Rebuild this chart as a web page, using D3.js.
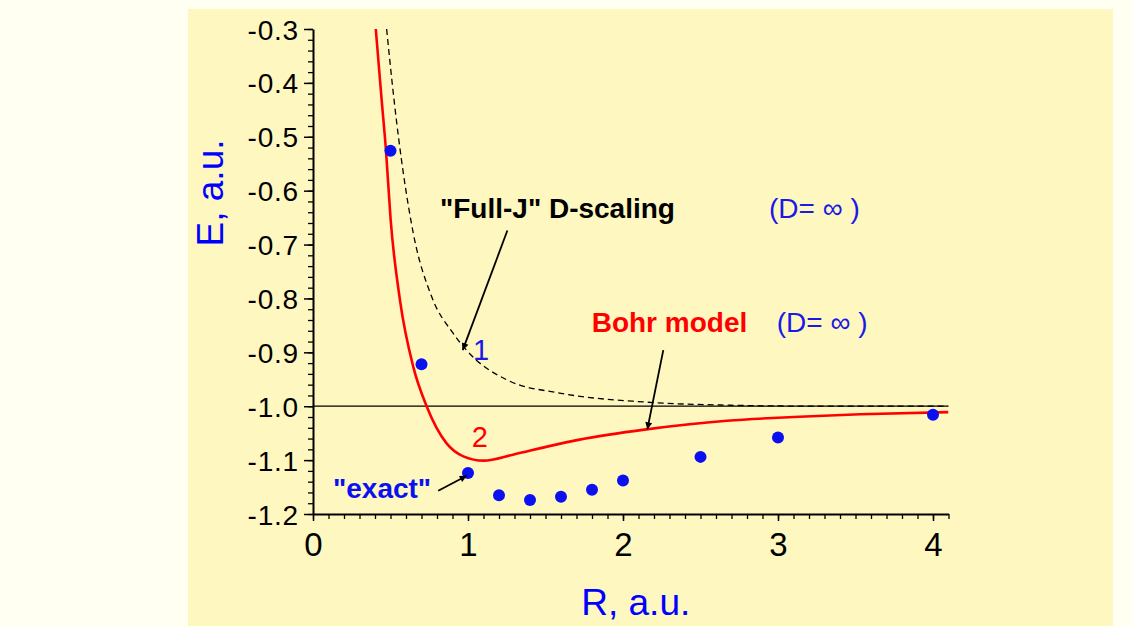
<!DOCTYPE html>
<html>
<head>
    <title>H2 energy vs R</title>
    <script src="https://d3js.org/d3.v7.min.js"></script>
    <style>
        body { margin: 0; background: #fffff2; }
        svg { display: block; }
        svg text { font-family: Arial, "Liberation Sans", sans-serif; }
    </style>
</head>
<body>
    <svg id="chart"></svg>
    <script>
        // values (R and E in atomic units)
        const bohrR = [0.405, 0.443, 0.471, 0.501, 0.561, 0.647, 0.733, 0.862, 0.97, 1.10, 1.29, 1.51, 1.72, 2.15, 2.67, 3.10, 3.53, 4.10];
        const bohrE = [-0.30, -0.432, -0.526, -0.654, -0.803, -0.927, -1.0, -1.069, -1.093, -1.101, -1.090, -1.075, -1.062, -1.043, -1.027, -1.020, -1.015, -1.011];

        const fullJR = [0.475, 0.523, 0.647, 0.766, 0.905, 0.99, 1.25, 1.60, 2.13, 2.67, 3.30, 4.10];
        const fullJE = [-0.30, -0.432, -0.679, -0.797, -0.865, -0.896, -0.951, -0.976, -0.992, -0.998, -1.0, -1.0];

        const exactR = [0.5, 0.7, 1.0, 1.2, 1.4, 1.6, 1.8, 2.0, 2.5, 3.0, 4.0];
        const exactE = [-0.526, -0.922, -1.124, -1.165, -1.174, -1.168, -1.155, -1.138, -1.094, -1.058, -1.016];

        const xTicks = [0, 1, 2, 3, 4];
        const yTicks = [-1.2, -1.1, -1.0, -0.9, -0.8, -0.7, -0.6, -0.5, -0.4, -0.3];

        const width = 1133, height = 627;
        const svg = d3.select("#chart").attr("width", width).attr("height", height);

        // yellow panel
        svg.append("rect")
            .attr("x", 188).attr("y", 9)
            .attr("width", 925).attr("height", 617)
            .attr("fill", "#fff7c0");

        const x = d3.scaleLinear().domain([0, 4.1]).range([313, 948.5]);
        const y = d3.scaleLinear().domain([-1.2, -0.3]).range([514, 29]);

        svg.append("clipPath").attr("id", "plotclip")
            .append("rect")
            .attr("x", x(0)).attr("y", y(-0.3))
            .attr("width", x(4.1) - x(0)).attr("height", y(-1.2) - y(-0.3));

        // minor ticks
        svg.append("g")
            .attr("transform", `translate(${x(0)},0)`)
            .call(d3.axisLeft(y).tickValues(d3.range(-1.2, -0.299, 0.02)).tickSize(5).tickSizeOuter(0).tickFormat(""))
            .call(g => g.select(".domain").remove())
            .call(g => g.selectAll("line").attr("stroke-width", 1.3));
        svg.append("g")
            .attr("transform", `translate(0,${y(-1.2)})`)
            .call(d3.axisBottom(x).tickValues(d3.range(0, 4.11, 0.1)).tickSize(5).tickSizeOuter(0).tickFormat(""))
            .call(g => g.select(".domain").remove())
            .call(g => g.selectAll("line").attr("stroke-width", 1.3));

        // major y axis
        svg.append("g")
            .attr("transform", `translate(${x(0)},0)`)
            .call(d3.axisLeft(y).tickValues(yTicks).tickSize(9).tickSizeOuter(0).tickPadding(5)
                .tickFormat(d => d.toFixed(1)))
            .call(g => g.attr("font-family", null).attr("font-size", null))
            .call(g => g.select(".domain").attr("stroke-width", 2))
            .call(g => g.selectAll("line").attr("stroke-width", 1.5))
            .call(g => g.selectAll("text")
                .attr("fill", "#000")
                .style("font-size", "28px")
                .style("letter-spacing", "0.8px")
                .attr("dy", "0.36em"));

        // major x axis
        svg.append("g")
            .attr("transform", `translate(0,${y(-1.2)})`)
            .call(d3.axisBottom(x).tickValues(xTicks).tickSize(7).tickSizeOuter(0).tickPadding(12)
                .tickFormat(d3.format("d")))
            .call(g => g.attr("font-family", null).attr("font-size", null))
            .call(g => g.select(".domain").attr("stroke-width", 2))
            .call(g => g.selectAll("line").attr("stroke-width", 1.5))
            .call(g => g.selectAll("text")
                .attr("fill", "#000")
                .style("font-size", "33px"));

        // axis titles
        svg.append("text")
            .attr("transform", `translate(223,193) rotate(-90)`)
            .attr("text-anchor", "middle")
            .attr("fill", "#0000ff")
            .style("font-size", "37px")
            .text("E, a.u.");
        svg.append("text")
            .attr("x", (x(0) + x(4.1)) / 2 + 5).attr("y", 615)
            .attr("text-anchor", "middle")
            .attr("fill", "#0000ff")
            .style("font-size", "37px")
            .text("R, a.u.");

        const plot = svg.append("g").attr("clip-path", "url(#plotclip)");

        // reference line E = -1
        plot.append("line")
            .attr("x1", x(0)).attr("x2", x(4.1))
            .attr("y1", y(-1.0)).attr("y2", y(-1.0))
            .attr("stroke", "#000").attr("stroke-width", 1.2);

        const line = d3.line()
            .x(d => x(d[0]))
            .y(d => y(d[1]))
            .curve(d3.curveMonotoneX);

        plot.append("path")
            .datum(d3.zip(fullJR, fullJE))
            .attr("d", line)
            .attr("fill", "none")
            .attr("stroke", "#000")
            .attr("stroke-width", 1.3)
            .attr("stroke-dasharray", "6,4");

        plot.append("path")
            .datum(d3.zip(bohrR, bohrE))
            .attr("d", line)
            .attr("fill", "none")
            .attr("stroke", "#ff0000")
            .attr("stroke-width", 2.6);

        plot.selectAll("circle")
            .data(d3.zip(exactR, exactE))
            .join("circle")
            .attr("cx", d => x(d[0]))
            .attr("cy", d => y(d[1]))
            .attr("r", 6)
            .attr("fill", "#0a10f0");

        // arrows
        svg.append("defs").append("marker")
            .attr("id", "arrow")
            .attr("viewBox", "0 0 10 10")
            .attr("refX", 10).attr("refY", 5)
            .attr("markerWidth", 13).attr("markerHeight", 7)
            .attr("markerUnits", "userSpaceOnUse")
            .attr("orient", "auto")
            .append("path")
            .attr("d", "M0,0 L10,5 L0,10 Z")
            .attr("fill", "#000");

        const arrows = [
            [1.254, -0.674, 0.966, -0.896],
            [2.260, -0.896, 2.157, -1.043],
            [0.808, -1.157, 0.992, -1.129]
        ];
        svg.selectAll(".arrow")
            .data(arrows)
            .join("line")
            .attr("class", "arrow")
            .attr("x1", d => x(d[0])).attr("y1", d => y(d[1]))
            .attr("x2", d => x(d[2])).attr("y2", d => y(d[3]))
            .attr("stroke", "#000")
            .attr("stroke-width", 1.8)
            .attr("marker-end", "url(#arrow)");

        // text labels
        const labels = [
            { t: "\"Full-J\" D-scaling", r: 0.819, e: -0.651, c: "#000", w: "bold", s: 28 },
            { t: "(D= \u221E )", r: 2.942, e: -0.651, c: "#1a1ae6", w: "normal", s: 28 },
            { t: "Bohr model", r: 1.798, e: -0.862, c: "#ff0000", w: "bold", s: 28 },
            { t: "(D= \u221E )", r: 2.992, e: -0.862, c: "#1a1ae6", w: "normal", s: 28 },
            { t: "1", r: 1.032, e: -0.914, c: "#1a1ae6", w: "normal", s: 29 },
            { t: "2", r: 1.024, e: -1.075, c: "#ff0000", w: "normal", s: 29 },
            { t: "\"exact\"", r: 0.129, e: -1.170, c: "#0a10f0", w: "bold", s: 28 }
        ];
        svg.selectAll(".label")
            .data(labels)
            .join("text")
            .attr("class", "label")
            .attr("x", d => x(d.r))
            .attr("y", d => y(d.e))
            .attr("fill", d => d.c)
            .style("font-weight", d => d.w)
            .style("font-size", d => d.s + "px")
            .text(d => d.t);
    </script>
</body>
</html>
